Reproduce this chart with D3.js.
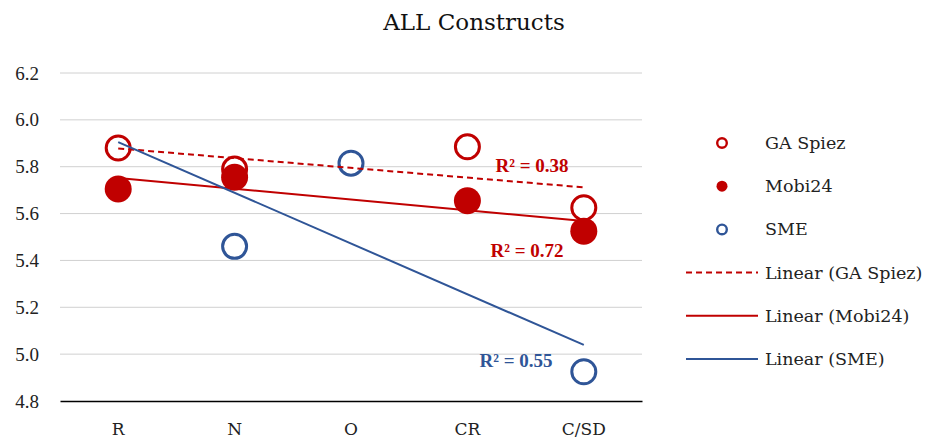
<!DOCTYPE html>
<html>
<head>
<meta charset="utf-8">
<script src="https://cdn.jsdelivr.net/npm/d3@7/dist/d3.min.js"></script>
<style>
  body { margin: 0; background: #fff; }
  text { font-family: "Liberation Serif", "DejaVu Serif", serif; }
  .wide { font-family: "DejaVu Serif", serif; }
</style>
</head>
<body>
<div id="chart"></div>
<script>
// categories and series values (null = no point)
const categories = ["R", "N", "O", "CR", "C/SD"];
const gaSpiez = [5.88, 5.79, null, 5.885, 5.625];
const mobi24 = [5.705, 5.755, null, 5.655, 5.525];
const sme = [null, 5.46, 5.815, null, 4.925];
const yTicks = [4.8, 5.0, 5.2, 5.4, 5.6, 5.8, 6.0, 6.2];
const r2Labels = ["R² = 0.38", "R² = 0.72", "R² = 0.55"];

const RED = "#C00000", BLUE = "#2F5597";

const W = 927, H = 441;
const margin = { top: 73, right: 285, bottom: 40, left: 60 };

const svg = d3.select("#chart").append("svg")
    .attr("width", W).attr("height", H);

const x = d3.scaleBand()
    .domain(categories)
    .range([margin.left, W - margin.right]);

const y = d3.scaleLinear()
    .domain([4.8, 6.2])
    .range([H - margin.bottom, margin.top]);

const cx = c => x(c) + x.bandwidth() / 2;

// gridlines
svg.append("g")
    .selectAll("line")
    .data(yTicks.slice(1))
    .join("line")
    .attr("x1", margin.left).attr("x2", W - margin.right)
    .attr("y1", d => y(d)).attr("y2", d => y(d))
    .attr("stroke", "#d0d0d0").attr("stroke-width", 1);

// y axis labels
svg.append("g")
    .attr("transform", `translate(${margin.left},0)`)
    .call(d3.axisLeft(y).tickValues(yTicks).tickFormat(d3.format(".1f")).tickSize(0).tickPadding(21))
    .call(g => g.select(".domain").remove())
    .selectAll("text")
    .attr("font-size", 19)
    .attr("fill", "#222")
    .style("font-family", "Liberation Serif, serif");

// x axis
svg.append("g")
    .attr("transform", `translate(0,${y(4.8)})`)
    .call(d3.axisBottom(x).tickSize(0).tickPadding(22))
    .call(g => g.select(".domain").attr("stroke", "#000").attr("stroke-width", 1.3))
    .selectAll("text")
    .attr("font-size", 17)
    .attr("fill", "#222")
    .style("font-family", "DejaVu Serif, serif");

// least squares trend over present points, x = category index 1..n
function trend(vals) {
  const pts = vals.map((v, i) => [i + 1, v]).filter(p => p[1] != null);
  const mx = d3.mean(pts, p => p[0]), my = d3.mean(pts, p => p[1]);
  const sxy = d3.sum(pts, p => (p[0] - mx) * (p[1] - my));
  const sxx = d3.sum(pts, p => (p[0] - mx) ** 2);
  const b = sxy / sxx, a = my - b * mx;
  return [[1, a + b], [vals.length, a + b * vals.length]];
}

const xi = i => cx(categories[i - 1]);
const trendLine = d3.line().x(p => xi(p[0])).y(p => y(p[1]));

const series = [
  { name: "GA Spiez", vals: gaSpiez, color: RED, fill: "#fff", dash: "6,4", r: 12, sw: 3 },
  { name: "Mobi24", vals: mobi24, color: RED, fill: RED, dash: null, r: 13.5, sw: 0 },
  { name: "SME", vals: sme, color: BLUE, fill: "#fff", dash: null, r: 12, sw: 3 }
];

// markers first (Mobi24 on top of GA Spiez), then trend lines on top
series.forEach(s => {
  svg.append("g")
      .selectAll("circle")
      .data(s.vals.map((v, i) => ({ c: categories[i], v })).filter(d => d.v != null))
      .join("circle")
      .attr("cx", d => cx(d.c))
      .attr("cy", d => y(d.v))
      .attr("r", s.r)
      .attr("fill", s.fill)
      .attr("stroke", s.color)
      .attr("stroke-width", s.sw);
});

series.forEach(s => {
  svg.append("path")
      .datum(trend(s.vals))
      .attr("d", trendLine)
      .attr("fill", "none")
      .attr("stroke", s.color)
      .attr("stroke-width", 2)
      .attr("stroke-dasharray", s.dash);
});

// R² labels
const r2Pos = [[532, 172, RED], [527, 257, RED], [516, 367, BLUE]];
r2Labels.forEach((t, i) => {
  svg.append("text")
      .attr("x", r2Pos[i][0]).attr("y", r2Pos[i][1])
      .attr("text-anchor", "middle")
      .attr("font-size", 19)
      .attr("font-weight", "bold")
      .attr("fill", r2Pos[i][2])
      .text(t);
});

// title
svg.append("text")
    .attr("class", "wide")
    .attr("x", 474).attr("y", 30)
    .attr("text-anchor", "middle")
    .attr("font-size", 23)
    .attr("fill", "#111")
    .text("ALL Constructs");

// legend
const legendItems = [
  { label: "GA Spiez", type: "dot", s: series[0] },
  { label: "Mobi24", type: "dot", s: series[1] },
  { label: "SME", type: "dot", s: series[2] },
  { label: "Linear (GA Spiez)", type: "line", s: series[0] },
  { label: "Linear (Mobi24)", type: "line", s: series[1] },
  { label: "Linear (SME)", type: "line", s: series[2] }
];
const leg = svg.append("g");
legendItems.forEach((d, i) => {
  const ly = 143 + i * 43.2;
  if (d.type === "dot") {
    leg.append("circle")
        .attr("cx", 722).attr("cy", ly)
        .attr("r", d.s.sw ? 4.8 : 5.5)
        .attr("fill", d.s.fill)
        .attr("stroke", d.s.color)
        .attr("stroke-width", d.s.sw ? 2.4 : 0);
  } else {
    leg.append("line")
        .attr("x1", 686).attr("x2", 758)
        .attr("y1", ly).attr("y2", ly)
        .attr("stroke", d.s.color)
        .attr("stroke-width", 2)
        .attr("stroke-dasharray", d.s.dash);
  }
  leg.append("text")
      .attr("class", "wide")
      .attr("x", 765)
      .attr("y", ly + 6)
      .attr("font-size", 17.5)
      .attr("fill", "#222")
      .text(d.label);
});
</script>
</body>
</html>
